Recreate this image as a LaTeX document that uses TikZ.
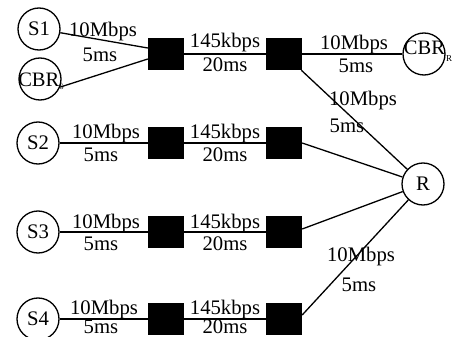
\documentclass[tikz,border=0pt]{standalone}
\usepackage{fontspec}
\setmainfont{Liberation Serif}
\tikzset{
  lnk/.style={line width=1.3pt},
  host/.style={circle, draw, line width=1.3pt, minimum size=42pt, inner sep=0pt, font=\fontsize{20.7}{24}\selectfont},
  router/.style={rectangle, fill=black, minimum width=36pt, minimum height=32pt, inner sep=0pt},
  lbl/.style={anchor=base, inner sep=0pt, font=\fontsize{20.7}{24}\selectfont},
  cbrtxt/.style={anchor=base, inner sep=0pt, font=\fontsize{20.5}{24}\selectfont}
}
\begin{document}
\begin{tikzpicture}[x=1pt,y=-1pt]
\useasboundingbox (0,0) rectangle (453,337);
% hosts
\node[host] (s1) at (39,29) {S1};
\node[host] (cbrs) at (40,79) {};
\node[cbrtxt] (cbrstext) at ([xshift=1pt,yshift=-8pt]cbrs.center) {CBR\raisebox{-3pt}{\fontsize{8}{9}\selectfont S}};
\node[host] (s2) at (38,143) {S2};
\node[host] (s3) at (38,232) {S3};
\node[host] (s4) at (38,319) {S4};
\node[host] (r) at (423,184) {R};
\node[host] (cbrr) at (424,54) {};
\node[cbrtxt] (cbrrtext) at ([xshift=4pt,yshift=-1pt]cbrr.center) {CBR\hspace{1pt}\raisebox{-7pt}{\fontsize{9}{10}\selectfont R}};
% routers
\node[router] (q1) at (166,54) {};
\node[router] (q1r) at (284,54) {};
\node[router] (q2) at (166,143) {};
\node[router] (q2r) at (284,143) {};
\node[router] (q3) at (166,232) {};
\node[router] (q3r) at (284,232) {};
\node[router] (q4) at (166,319) {};
\node[router] (q4r) at (284,319) {};
% links
\draw[lnk] (s1) -- ([yshift=6pt]q1.west);
\draw[lnk] (cbrs.-22) -- ([yshift=-5pt]q1.west);
\draw[lnk] (q1) -- (q1r);
\draw[lnk] (q1r) -- (cbrr);
\draw[lnk] (q1r) -- (r);
\draw[lnk] (s2) -- (q2);
\draw[lnk] (q2) -- (q2r);
\draw[lnk] (q2r.east) -- (r);
\draw[lnk] (s3) -- (q3);
\draw[lnk] (q3) -- (q3r);
\draw[lnk] ([yshift=3pt]q3r.east) -- (r);
\draw[lnk] (s4) -- (q4);
\draw[lnk] (q4) -- (q4r);
\draw[lnk] ([yshift=4pt]q4r.east) -- (r);
% labels row 1
\node[lbl] (l1a) at (103,37) {10Mbps};
\node[lbl] (l1b) at (100,62) {5ms};
\node[lbl] (l1c) at (225,48) {145kbps};
\node[lbl] (l1d) at (225,72) {20ms};
\node[lbl] (l1e) at (354,50) {10Mbps};
\node[lbl] (l1f) at (356,73) {5ms};
\node[lbl] (l1g) at (363,106) {10Mbps};
\node[lbl] (l1h) at (347,132) {5ms};
% row 2
\node[lbl] (l2a) at (106,139) {10Mbps};
\node[lbl] (l2b) at (101,161) {5ms};
\node[lbl] (l2c) at (225,139) {145kbps};
\node[lbl] (l2d) at (225,161) {20ms};
% row 3
\node[lbl] (l3a) at (106,228) {10Mbps};
\node[lbl] (l3b) at (101,250) {5ms};
\node[lbl] (l3c) at (225,228) {145kbps};
\node[lbl] (l3d) at (225,250) {20ms};
% row 4
\node[lbl] (l4a) at (104,314) {10Mbps};
\node[lbl] (l4b) at (101,333) {5ms};
\node[lbl] (l4c) at (225,314) {145kbps};
\node[lbl] (l4d) at (225,333) {20ms};
\node[lbl] (l4e) at (361,261) {10Mbps};
\node[lbl] (l4f) at (359,291) {5ms};
\end{tikzpicture}
\end{document}
